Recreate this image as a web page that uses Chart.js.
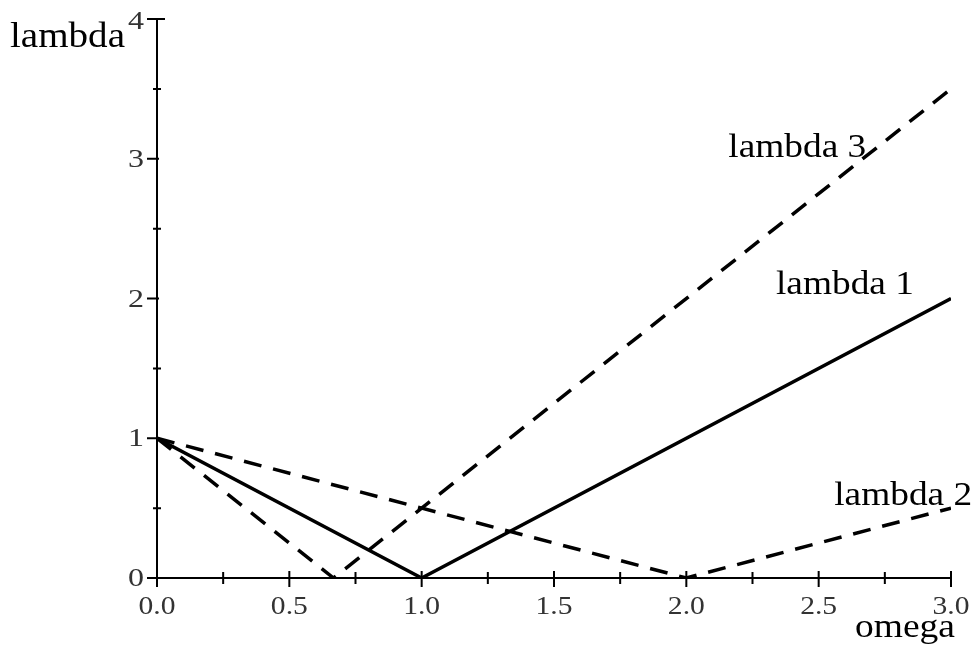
<!DOCTYPE html>
<html lang="en">
<head>
    <meta charset="UTF-8">
    <title>lambda vs omega</title>
    <script src="https://cdn.jsdelivr.net/npm/chart.js"></script>
    <style>
        html, body { margin: 0; padding: 0; background: #fff; }
        #wrap { width: 978px; height: 649px; }
    </style>
</head>
<body>
    <div id="wrap"><canvas id="lambdaChart" width="978" height="649"></canvas></div>

    <script>
        // values
        const lambda1X = [0, 1, 3];
        const lambda1Y = [1, 0, 2];
        const lambda2X = [0, 2, 3];
        const lambda2Y = [1, 0, 0.5];
        const lambda3X = [0, 0.667, 3];
        const lambda3Y = [1, 0, 3.5];

        const xTicks = [0, 0.5, 1, 1.5, 2, 2.5, 3];
        const xTickLabels = ['0.0', '0.5', '1.0', '1.5', '2.0', '2.5', '3.0'];
        const xMinor = [0.25, 0.75, 1.25, 1.75, 2.25, 2.75];
        const yTicks = [0, 1, 2, 3, 4];
        const yTickLabels = ['0', '1', '2', '3', '4'];
        const yMinor = [0.5, 1.5, 2.5, 3.5];

        const curveLabels = [
            { text: 'lambda 3', x: 2.68, y: 3.01 },
            { text: 'lambda 1', x: 2.86, y: 2.03 },
            { text: 'lambda 2', x: 3.08, y: 0.52 }
        ];

        const toPoints = (xs, ys) => xs.map((x, i) => ({ x: x, y: ys[i] }));
        const serif = '"Liberation Serif", "DejaVu Serif", serif';

        // draw text squeezed/stretched to a given width
        function fitText(ctx, text, x, y, width, size, align) {
            ctx.save();
            ctx.font = size + 'px ' + serif;
            const w = ctx.measureText(text).width;
            const sx = width / w;
            let left = x;
            if (align === 'center') left = x - width / 2;
            if (align === 'right') left = x - width;
            ctx.translate(left, y);
            ctx.scale(sx, 1);
            ctx.textAlign = 'left';
            ctx.fillText(text, 0, 0);
            ctx.restore();
        }

        const axesPlugin = {
            id: 'axesPlugin',
            afterDraw(chart) {
                const ctx = chart.ctx;
                const xs = chart.scales.x;
                const ys = chart.scales.y;
                const x0 = xs.getPixelForValue(0);
                const y0 = ys.getPixelForValue(0);
                ctx.save();
                ctx.strokeStyle = '#000';
                ctx.lineWidth = 2;
                ctx.beginPath();
                ctx.moveTo(x0, ys.getPixelForValue(4));
                ctx.lineTo(x0, y0);
                ctx.lineTo(xs.getPixelForValue(3), y0);
                xTicks.forEach(v => {
                    const p = xs.getPixelForValue(v);
                    ctx.moveTo(p, y0 - 7); ctx.lineTo(p, y0 + 9);
                });
                xMinor.forEach(v => {
                    const p = xs.getPixelForValue(v);
                    ctx.moveTo(p, y0 - 6); ctx.lineTo(p, y0 + 6);
                });
                yTicks.forEach(v => {
                    const p = ys.getPixelForValue(v);
                    ctx.moveTo(x0 - 10, p); ctx.lineTo(x0 + (v === 4 ? 8 : 2), p);
                });
                yMinor.forEach(v => {
                    const p = ys.getPixelForValue(v);
                    ctx.moveTo(x0 - 4, p); ctx.lineTo(x0 + 4, p);
                });
                ctx.stroke();

                ctx.fillStyle = '#333';
                ctx.textBaseline = 'alphabetic';
                xTicks.forEach((v, i) => {
                    fitText(ctx, xTickLabels[i], xs.getPixelForValue(v), y0 + 36, 37, 25, 'center');
                });
                yTicks.forEach((v, i) => {
                    const p = ys.getPixelForValue(v);
                    const dy = v === 4 ? 10 : 8;
                    fitText(ctx, yTickLabels[i], x0 - 13, p + dy, 16, 25, 'right');
                });

                ctx.fillStyle = '#000';
                fitText(ctx, 'lambda', 10, 47, 115, 35, 'left');
                fitText(ctx, 'omega', 855, 637, 100, 34, 'left');
                curveLabels.forEach(c => {
                    fitText(ctx, c.text, xs.getPixelForValue(c.x), ys.getPixelForValue(c.y), 138, 33, 'right');
                });
                ctx.restore();
            }
        };

        const lineStyle = {
            borderColor: '#000',
            borderWidth: 3.5,
            pointRadius: 0,
            fill: false,
            tension: 0
        };

        new Chart(document.getElementById('lambdaChart').getContext('2d'), {
            type: 'scatter',
            data: {
                datasets: [
                    Object.assign({ label: 'lambda 1', data: toPoints(lambda1X, lambda1Y), showLine: true }, lineStyle),
                    Object.assign({ label: 'lambda 2', data: toPoints(lambda2X, lambda2Y), showLine: true, borderDash: [18, 12] }, lineStyle),
                    Object.assign({ label: 'lambda 3', data: toPoints(lambda3X, lambda3Y), showLine: true, borderDash: [18, 12] }, lineStyle)
                ]
            },
            options: {
                responsive: false,
                animation: false,
                layout: { padding: { left: 157, right: 27, top: 19, bottom: 71 } },
                scales: {
                    x: { type: 'linear', min: 0, max: 3, display: false },
                    y: { type: 'linear', min: 0, max: 4, display: false }
                },
                plugins: {
                    legend: { display: false },
                    tooltip: { enabled: false }
                }
            },
            plugins: [axesPlugin]
        });
    </script>
</body>
</html>
